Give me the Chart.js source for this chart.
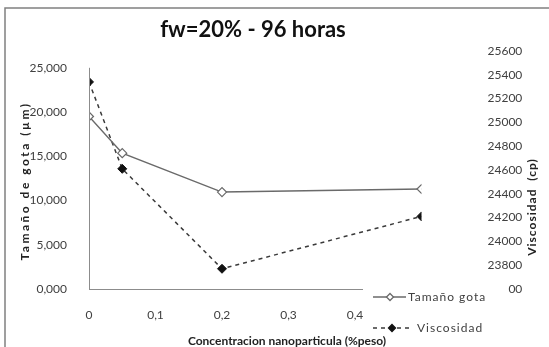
<!DOCTYPE html>
<html>
<head>
<meta charset="utf-8">
<script src="https://cdn.jsdelivr.net/npm/chart.js@4"></script>
<style>
  html, body { margin: 0; padding: 0; background: #fff; }
  #wrap { width: 549px; height: 347px; }
</style>
</head>
<body>
<div id="wrap"><canvas id="grafico" width="549" height="347"></canvas></div>
<script>
// datos
const concentracion = [0, 0.05, 0.2, 0.5];
const tamanoGota = [19500, 15350, 10950, 11300];
const viscosidad = [25340, 24610, 23770, 24210];

const ticksIzq = [0, 5000, 10000, 15000, 20000, 25000];
const ticksDer = [23600, 23800, 24000, 24200, 24400, 24600, 24800, 25000, 25200, 25400, 25600];
const ticksX = [0, 0.1, 0.2, 0.3, 0.4, 0.5];

const titulo = 'fw=20% - 96 horas';
const tituloX = 'Concentracion nanoparticula (%peso)';
const tituloY = 'Tamaño de gota (µm)';
const tituloY2 = 'Viscosidad  (cp)';
const nombres = ['Tamaño gota', 'Viscosidad'];

const colorTexto = '#404040';
const fuente = 'Lato, "Open Sans", sans-serif';

const toPoints = (ys) => concentracion.map((x, i) => ({ x, y: ys[i] }));
const fijarTicks = (lista) => (s) => { s.ticks = lista.map((value) => ({ value })); };
const ajustar = (prop, valor) => (s) => {
  s[prop] = valor;
  s.paddingTop = 0;
  s.paddingBottom = 0;
  s.paddingLeft = 0;
  s.paddingRight = 0;
};

// textos, marco y leyenda dibujados a mano
const decoracion = {
  id: 'decoracion',
  beforeDraw(chart) {
    const ctx = chart.ctx;
    ctx.save();
    ctx.strokeStyle = '#808080';
    ctx.lineWidth = 1.5;
    ctx.beginPath();
    ctx.moveTo(5, 347);
    ctx.lineTo(5, 8);
    ctx.lineTo(549, 8);
    ctx.stroke();
    ctx.restore();
  },
  afterDraw(chart) {
    const ctx = chart.ctx;
    const yIzq = chart.scales.y;
    const x = chart.scales.x;
    ctx.save();

    // eje vertical izquierdo (solo hasta 25,000)
    ctx.strokeStyle = '#8c8c8c';
    ctx.lineWidth = 1;
    ctx.beginPath();
    ctx.moveTo(x.left + 0.5, yIzq.getPixelForValue(25000));
    ctx.lineTo(x.left + 0.5, yIzq.bottom);
    ctx.stroke();

    // titulo
    ctx.fillStyle = '#111';
    ctx.font = 'bold 22px ' + fuente;
    ctx.textAlign = 'center';
    ctx.textBaseline = 'middle';
    ctx.fillText(titulo, 253, 30);

    // titulos ejes y
    ctx.font = 'bold 12px ' + fuente;
    ctx.fillStyle = '#222';
    ctx.letterSpacing = '2.5px';
    ctx.save();
    ctx.translate(25, 181);
    ctx.rotate(-Math.PI / 2);
    ctx.fillText(tituloY, 0, 0);
    ctx.restore();

    ctx.letterSpacing = '1px';
    ctx.save();
    ctx.translate(532, 207);
    ctx.rotate(-Math.PI / 2);
    ctx.fillText(tituloY2, 0, 0);
    ctx.restore();

    // leyenda
    ctx.fillStyle = '#fff';
    ctx.fillRect(363, 279, 145, 56);
    const ds = chart.data.datasets;
    const filas = [
      { y: 297, x0: 373, x1: 406, xm: 390, xt: 408 },
      { y: 328, x0: 373, x1: 410, xm: 392, xt: 417 },
    ];
    filas.forEach((f, i) => {
      const d = ds[i];
      ctx.strokeStyle = d.borderColor;
      ctx.lineWidth = 1.3;
      ctx.setLineDash(d.borderDash || []);
      ctx.beginPath();
      ctx.moveTo(f.x0, f.y);
      ctx.lineTo(f.x1, f.y);
      ctx.stroke();
      ctx.setLineDash([]);
      ctx.fillStyle = d.pointBackgroundColor;
      ctx.strokeStyle = d.pointBorderColor;
      ctx.beginPath();
      ctx.moveTo(f.xm, f.y - 3.5);
      ctx.lineTo(f.xm + 3.5, f.y);
      ctx.lineTo(f.xm, f.y + 3.5);
      ctx.lineTo(f.xm - 3.5, f.y);
      ctx.closePath();
      ctx.fill();
      ctx.stroke();
      ctx.fillStyle = colorTexto;
      ctx.font = '12px ' + fuente;
      ctx.textAlign = 'left';
      ctx.fillText(nombres[i], f.xt, f.y);
    });

    // titulo eje x
    ctx.letterSpacing = '0px';
    ctx.textAlign = 'center';
    ctx.font = 'bold 12px ' + fuente;
    ctx.fillStyle = '#222';
    ctx.fillText(tituloX, 287, 341);
    ctx.restore();
  },
};

new Chart(document.getElementById('grafico'), {
  type: 'scatter',
  data: {
    datasets: [
      {
        label: nombres[0],
        data: toPoints(tamanoGota),
        yAxisID: 'y',
        showLine: true,
        borderColor: '#6a6a6a',
        borderWidth: 1.5,
        pointStyle: 'rectRot',
        pointRadius: 4.5,
        pointBackgroundColor: '#fff',
        pointBorderColor: '#6a6a6a',
        pointBorderWidth: 1.2,
      },
      {
        label: nombres[1],
        data: toPoints(viscosidad),
        yAxisID: 'y2',
        showLine: true,
        borderColor: '#3a3a3a',
        borderWidth: 1.5,
        borderDash: [4, 4],
        pointStyle: 'rectRot',
        pointRadius: 4.5,
        pointBackgroundColor: '#111',
        pointBorderColor: '#111',
        pointBorderWidth: 1,
      },
    ],
  },
  options: {
    responsive: false,
    animation: false,
    layout: { padding: { top: 51, left: 0, right: 0, bottom: 0 } },
    plugins: {
      legend: { display: false },
      tooltip: { enabled: false },
    },
    scales: {
      x: {
        type: 'linear',
        min: 0,
        max: 0.5,
        grid: { display: false },
        border: { display: true, color: '#8c8c8c' },
        afterBuildTicks: fijarTicks(ticksX),
        ticks: {
          padding: 11,
          color: colorTexto,
          font: { family: fuente, size: 12 },
          callback: (v) => (v === 0 ? '0' : v.toFixed(1).replace('.', ',')),
        },
        afterFit: ajustar('height', 58),
      },
      y: {
        position: 'left',
        min: 0,
        max: 26900,
        grid: { display: false },
        border: { display: false },
        afterBuildTicks: fijarTicks(ticksIzq),
        ticks: {
          padding: 14,
          color: colorTexto,
          font: { family: fuente, size: 12 },
          callback: (v) => (v / 1000) + ',000',
        },
        afterFit: ajustar('width', 89),
      },
      y2: {
        position: 'right',
        min: 23600,
        max: 25600,
        grid: { display: false },
        border: { display: false },
        afterBuildTicks: fijarTicks(ticksDer),
        ticks: {
          padding: 58,
          color: colorTexto,
          font: { family: fuente, size: 12 },
          callback: (v) => String(v),
        },
        afterFit: ajustar('width', 127.5),
      },
    },
  },
  plugins: [decoracion],
});
</script>
</body>
</html>
